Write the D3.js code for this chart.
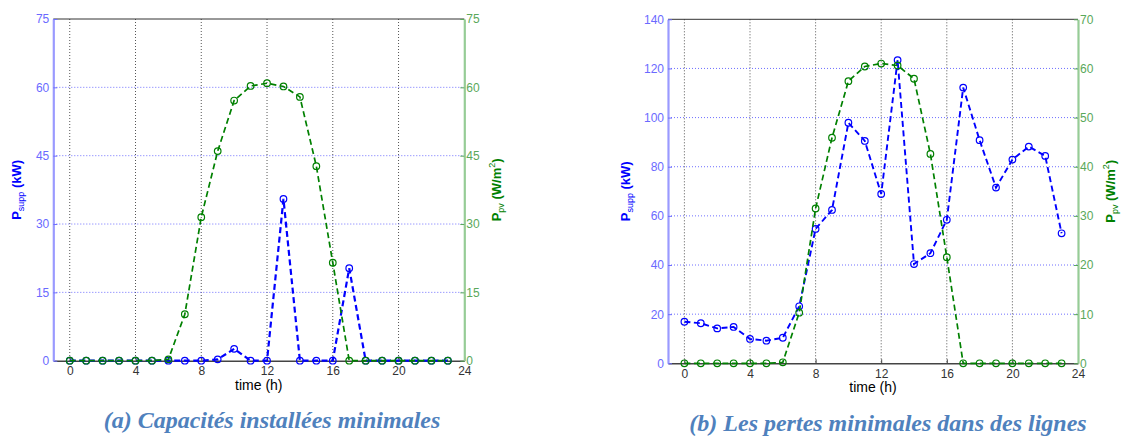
<!DOCTYPE html>
<html><head><meta charset="utf-8">
<script src="https://cdn.jsdelivr.net/npm/d3@7/dist/d3.min.js"></script>
<style>body{margin:0;background:#fff}svg{display:block}</style>
</head><body>
<svg id="c" width="1125" height="437"></svg>
<script>
const hours = [0,1,2,3,4,5,6,7,8,9,10,11,12,13,14,15,16,17,18,19,20,21,22,23];
const aSupp = [0,0,0,0,0,0,0,0,0,0.3,2.6,0,0,35.5,0,0,0,20.3,0,0,0,0,0,0];
const aPv   = [0,0,0,0,0,0,0.3,10.2,31.5,46.0,57.1,60.3,60.9,60.2,57.9,42.7,21.5,0,0,0,0,0,0,0];
const bSupp = [16.9,16.3,14.2,14.8,9.9,9.2,10.4,23.2,54.7,62.4,97.9,90.5,68.9,123.4,40.4,44.8,58.4,112.2,90.8,71.5,82.9,88.2,84.4,52.9];
const bPv   = [0,0,0,0,0,0,0.2,10.3,31.5,45.9,57.4,60.4,61.0,60.6,57.9,42.6,21.6,0,0,0,0,0,0,0];
const xTicks = [0,4,8,12,16,20,24];
const aLeftTicks = [0,15,30,45,60,75];
const aRightTicks = [0,15,30,45,60,75];
const bLeftTicks = [0,20,40,60,80,100,120,140];
const bRightTicks = [0,10,20,30,40,50,60,70];
const captions = ["(a) Capacités installées minimales", "(b) Les pertes minimales dans des lignes"];

const svg = d3.select("#c");
const BLUE = "#0000ff", GREEN = "#008000";
const panels = [
  {L:53.3, R:464.3, T:19, B:360.7, supp:aSupp, pv:aPv, lt:aLeftTicks, rt:aRightTicks,
   ylabX:21, y2labX:500.5, cap:captions[0], capX:272, capY:428, blueW:2.2},
  {L:668, R:1078, T:19.3, B:363.3, supp:bSupp, pv:bPv, lt:bLeftTicks, rt:bRightTicks,
   ylabX:630, y2labX:1115, cap:captions[1], capX:888, capY:431, blueW:1.9}
];

panels.forEach(p => {
  const x = d3.scaleLinear().domain([-1, 24]).range([p.L, p.R]);
  const yL = d3.scaleLinear().domain([0, d3.max(p.lt)]).range([p.B, p.T]);
  const yR = d3.scaleLinear().domain([0, d3.max(p.rt)]).range([p.B, p.T]);
  const g = svg.append("g");

  // grid
  g.selectAll(".vg").data(xTicks.filter(t => t < 24)).join("line")
    .attr("x1", d => x(d)).attr("x2", d => x(d)).attr("y1", p.T).attr("y2", p.B)
    .attr("stroke", "#555").attr("stroke-width", 1).attr("stroke-dasharray", "1,2");
  g.selectAll(".hg").data(p.lt.filter(t => t > 0 && t < d3.max(p.lt))).join("line")
    .attr("x1", p.L).attr("x2", p.R).attr("y1", d => yL(d)).attr("y2", d => yL(d))
    .attr("stroke", "#6f6fff").attr("stroke-width", 1).attr("stroke-dasharray", "1,2");

  // box top
  g.append("line").attr("x1", p.L).attr("x2", p.R).attr("y1", p.T).attr("y2", p.T)
    .attr("stroke", "#333").attr("stroke-width", 1);

  // bottom axis
  const xa = g.append("g").attr("transform", `translate(0,${p.B})`)
    .call(d3.axisBottom(x).tickValues(xTicks).tickSize(-4).tickPadding(6).tickSizeOuter(0));
  xa.select(".domain").attr("stroke", "#444").attr("stroke-width", 1.5);
  xa.selectAll(".tick line").attr("stroke", "#444");
  xa.selectAll("text").attr("fill", "#333").style("font", "12px 'Liberation Sans', Arial, sans-serif");

  // left axis
  const la = g.append("g").attr("transform", `translate(${p.L},0)`)
    .call(d3.axisLeft(yL).tickValues(p.lt).tickSize(-4).tickPadding(4).tickSizeOuter(0));
  la.select(".domain").attr("stroke", "#9a9aff").attr("stroke-width", 2.2);
  la.selectAll(".tick line").attr("stroke", "#6f6fff");
  la.selectAll("text").attr("fill", "#6a6aff").style("font", "12px 'Liberation Sans', Arial, sans-serif");

  // right axis
  const ra = g.append("g").attr("transform", `translate(${p.R},0)`)
    .call(d3.axisRight(yR).tickValues(p.rt).tickSize(-4).tickPadding(2).tickSizeOuter(0));
  ra.select(".domain").attr("stroke", "#96cc96").attr("stroke-width", 2.2);
  ra.selectAll(".tick line").attr("stroke", "#5aa85a");
  ra.selectAll("text").attr("fill", "#5aa85a").style("font", "12px 'Liberation Sans', Arial, sans-serif");

  // series
  const drawSeries = (vals, y, color, w) => {
    const pts = hours.map((h, i) => [h, vals[i]]);
    g.append("path").datum(pts)
      .attr("d", d3.line().x(d => x(d[0])).y(d => y(d[1])))
      .attr("fill", "none").attr("stroke", color).attr("stroke-width", w)
      .attr("stroke-dasharray", "6,3.5");
    g.selectAll(null).data(pts).join("circle")
      .attr("cx", d => x(d[0])).attr("cy", d => y(d[1])).attr("r", 3.3)
      .attr("fill", "none").attr("stroke", color).attr("stroke-width", 1.2);
  };
  drawSeries(p.supp, yL, BLUE, p.blueW);
  drawSeries(p.pv, yR, GREEN, 1.7);

  // labels
  const cy = (p.T + p.B) / 2;
  const l1 = g.append("text").attr("transform", `translate(${p.ylabX},${cy}) rotate(-90)`)
    .attr("text-anchor", "middle").attr("fill", BLUE)
    .style("font", "bold 13px 'Liberation Sans', Arial, sans-serif");
  l1.append("tspan").text("P");
  l1.append("tspan").attr("font-size", "9px").attr("font-weight", "normal").attr("dy", 3).text("supp");
  l1.append("tspan").attr("dy", -3).text(" (kW)");

  const l2 = g.append("text").attr("transform", `translate(${p.y2labX},${cy}) rotate(-90)`)
    .attr("text-anchor", "middle").attr("fill", GREEN)
    .style("font", "bold 13px 'Liberation Sans', Arial, sans-serif");
  l2.append("tspan").text("P");
  l2.append("tspan").attr("font-size", "9px").attr("font-weight", "normal").attr("dy", 3).text("pv");
  l2.append("tspan").attr("dy", -3).text(" (W/m");
  l2.append("tspan").attr("font-size", "9px").attr("font-weight", "normal").attr("dy", -6).text("2");
  l2.append("tspan").attr("dy", 6).text(")");

  g.append("text").attr("x", (p.L + p.R) / 2).attr("y", p.B + 29)
    .attr("text-anchor", "middle").attr("fill", "#000")
    .style("font", "14px 'Liberation Sans', Arial, sans-serif").text("time (h)");

  g.append("text").attr("x", p.capX).attr("y", p.capY).attr("text-anchor", "middle")
    .attr("fill", "#4f81bd")
    .style("font", "italic bold 24px 'Liberation Serif', 'Times New Roman', serif").text(p.cap);
});
</script>
</body></html>
